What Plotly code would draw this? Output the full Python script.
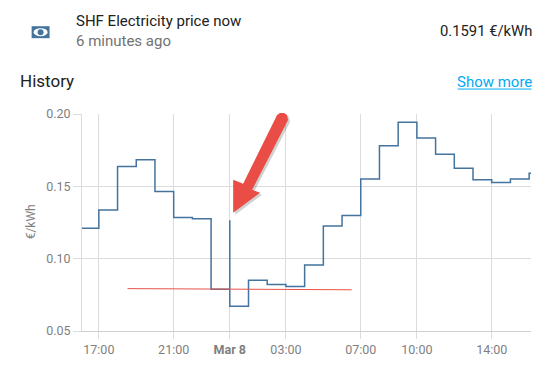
import plotly.graph_objects as go

W, H = 551, 370
L, R, T, B = 81.5, 531.5, 114.0, 331.5
PAGE_MARGIN = 8  # the page's body margin

start = "2023-03-07 16:06"
end = "2023-03-08 16:06"
price_times = ["2023-03-07 16:06","2023-03-07 17:00","2023-03-07 18:00","2023-03-07 19:00","2023-03-07 20:00",
    "2023-03-07 21:00","2023-03-07 22:00","2023-03-07 23:00","2023-03-08 00:00","2023-03-08 00:00",
    "2023-03-08 01:00","2023-03-08 02:00","2023-03-08 03:00","2023-03-08 04:00","2023-03-08 05:00",
    "2023-03-08 06:00","2023-03-08 07:00","2023-03-08 08:00","2023-03-08 09:00","2023-03-08 10:00",
    "2023-03-08 11:00","2023-03-08 12:00","2023-03-08 13:00","2023-03-08 14:00","2023-03-08 15:00",
    "2023-03-08 16:00","2023-03-08 16:06"]
price_values = [0.121,0.1336,0.1637,0.1683,0.1464,0.1285,0.1276,0.0788,0.1265,0.0671,0.085,0.0821,0.0808,
    0.0957,0.1226,0.1299,0.155,0.1781,0.1943,0.1834,0.1722,0.1625,0.1545,0.1526,0.1551,0.1591,0.1591]
trend_times = ["2023-03-07 18:32","2023-03-08 06:31"]
trend_values = [0.0793,0.0785]
tick_times = ["2023-03-07 17:00","2023-03-07 21:00","2023-03-08 00:00","2023-03-08 03:00","2023-03-08 07:00","2023-03-08 10:00","2023-03-08 14:00"]
tick_labels = ["17:00","21:00","<b>Mar 8</b>","03:00","07:00","10:00","14:00"]
y_ticks = [0.05,0.10,0.15,0.20]
y_labels = ["0.05","0.10","0.15","0.20"]

FONT = "Roboto, sans-serif"
GRID = "#dcdcdc"
fig = go.Figure()
fig.add_trace(go.Scatter(x=price_times, y=price_values, mode="lines",
    line=dict(color="#44739e", width=1.5, shape="hv"), hoverinfo="skip"))
fig.add_trace(go.Scatter(x=trend_times, y=trend_values, mode="lines",
    line=dict(color="#e8524a", width=1), hoverinfo="skip"))

def px(x): return (x - L) / (R - L)
def py(y): return (B - y) / (B - T)
def path(pts): return "M" + " L".join(f"{px(x):.5f},{py(y):.5f}" for x, y in pts) + " Z"

arrow = [(243,184),(277,115),(280,113),(284,113),(287,115),(288,120),(252,190),(260,193),(233,213),(233,180)]
fig.add_shape(type="path", xref="paper", yref="paper", path=path([(x+2,y+2) for x,y in arrow]),
    fillcolor="rgba(0,0,0,0.18)", line=dict(width=0), layer="above")
fig.add_shape(type="path", xref="paper", yref="paper", path=path(arrow),
    fillcolor="#ea4d45", line=dict(width=0), layer="above")

def box(x0, x1, y0, y1):
    return dict(xref="paper", yref="paper", x0=px(x0), x1=px(x1), y0=py(y1), y1=py(y0))

fig.add_shape(type="rect", fillcolor="#44739e", line=dict(width=0), **box(31, 49, 26, 38))
fig.add_shape(type="circle", fillcolor="white", line=dict(width=0), **box(33, 47, 28, 36))
fig.add_shape(type="circle", fillcolor="#44739e", line=dict(width=0), **box(37, 43, 29, 35))
fig.add_shape(type="line", line=dict(color="#03a9f4", width=1), **box(458, 532, 89, 89))

def text(x, y, s, size, color, anchor="left", **kw):
    fig.add_annotation(xref="paper", yref="paper", x=px(x), y=py(y), text=s, showarrow=False,
        xanchor=anchor, yanchor="middle", font=dict(family=FONT, size=size, color=color),
        borderpad=0, borderwidth=0, **kw)

text(75, 21, "SHF Electricity price now", 15, "#212121")
text(75, 41, "6 minutes ago", 15, "#727272")
text(533, 31, "0.1591 €/kWh", 14.8, "#212121", "right")
text(19, 81, "History", 17, "#212121")
text(533, 82, "Show more", 15, "#03a9f4", "right")
text(30, 222, "€/kWh", 12, "#7f7f7f", "center", textangle=-90)

fig.update_layout(width=W-PAGE_MARGIN, height=H-PAGE_MARGIN, autosize=False, showlegend=False,
    paper_bgcolor="white", plot_bgcolor="white",
    margin=dict(l=L-PAGE_MARGIN, r=W-R, t=T-PAGE_MARGIN, b=H-B),
    font=dict(family=FONT, size=12, color="#7f7f7f"),
    xaxis=dict(type="date", range=[start, end], tickmode="array", tickvals=tick_times, ticktext=tick_labels,
        showgrid=True, gridcolor=GRID, gridwidth=1, showline=True, linecolor="#cfcfcf", zeroline=False,
        ticks="outside", ticklen=7, tickcolor=GRID, tickfont=dict(family=FONT, size=12.5, color="#7f7f7f")),
    yaxis=dict(range=[0.05, 0.20], tickmode="array", tickvals=y_ticks, ticktext=y_labels,
        showgrid=True, gridcolor=GRID, gridwidth=1, showline=True, linecolor=GRID, zeroline=False,
        ticks="outside", ticklen=8, tickcolor=GRID, tickfont=dict(family=FONT, size=12.5, color="#7f7f7f")))
fig.write_html("out.html")
